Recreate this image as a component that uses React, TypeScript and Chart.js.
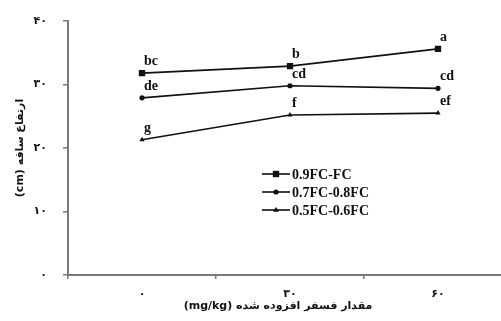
import React, { useEffect, useRef } from "react";
import { Chart, registerables } from "chart.js";

Chart.register(...registerables);

const categories = ["۰", "۳۰", "۶۰"];
const seriesNames = ["0.9FC-FC", "0.7FC-0.8FC", "0.5FC-0.6FC"];
const series1 = [31.8, 32.9, 35.6];
const series2 = [27.9, 29.8, 29.4];
const series3 = [21.3, 25.2, 25.5];
const letters1 = ["bc", "b", "a"];
const letters2 = ["de", "cd", "cd"];
const letters3 = ["g", "f", "ef"];
const yTickValues = [0, 10, 20, 30, 40];
const yTickLabels = ["۰", "۱۰", "۲۰", "۳۰", "۴۰"];
const yTitle = "(cm) ارتفاع ساقه";
const xTitle = "(mg/kg) مقدار فسفر افزوده شده";

const pointStyles = ["rect", "circle", "triangle"];
const pointRadii = [4.5, 2.6, 3];
const letterSets = [letters1, letters2, letters3];

const SERIF = "'Liberation Serif', 'Times New Roman', serif";
const PERSIAN = "'DejaVu Sans', sans-serif";

function drawMarker(ctx: CanvasRenderingContext2D, style: string, x: number, y: number, r: number) {
  ctx.beginPath();
  if (style === "rect") {
    const s = r * Math.SQRT1_2;
    ctx.rect(x - s, y - s, 2 * s, 2 * s);
  } else if (style === "circle") {
    ctx.arc(x, y, r, 0, Math.PI * 2);
  } else {
    ctx.moveTo(x, y - r);
    ctx.lineTo(x + r, y + r * 0.6);
    ctx.lineTo(x - r, y + r * 0.6);
    ctx.closePath();
  }
  ctx.fill();
}

const labelsPlugin = {
  id: "letterLabels",
  afterDatasetsDraw(chart: any) {
    const ctx = chart.ctx as CanvasRenderingContext2D;
    ctx.save();
    ctx.fillStyle = "#111";
    ctx.font = `bold 14px ${SERIF}`;
    ctx.textAlign = "left";
    ctx.textBaseline = "alphabetic";
    chart.data.datasets.forEach((ds: any, i: number) => {
      const meta = chart.getDatasetMeta(i);
      meta.data.forEach((pt: any, j: number) => {
        ctx.fillText(letterSets[i][j], pt.x + 2, pt.y - 8);
      });
    });
    ctx.restore();
  },
};

const xTitlePlugin = {
  id: "xTitle",
  afterDraw(chart: any) {
    const ctx = chart.ctx as CanvasRenderingContext2D;
    const area = chart.chartArea;
    ctx.save();
    ctx.fillStyle = "#111";
    ctx.font = `bold 11px ${PERSIAN}`;
    ctx.textAlign = "center";
    ctx.textBaseline = "middle";
    ctx.fillText(xTitle, (area.left + area.right) / 2 - 12, chart.height - 7);
    ctx.restore();
  },
};

const legendPlugin = {
  id: "customLegend",
  afterDraw(chart: any) {
    const ctx = chart.ctx as CanvasRenderingContext2D;
    ctx.save();
    const x0 = 254;
    const x1 = 282;
    const rows = [166, 184, 202];
    seriesNames.forEach((name, i) => {
      const y = rows[i];
      ctx.strokeStyle = "#111";
      ctx.lineWidth = 1.6;
      ctx.beginPath();
      ctx.moveTo(x0, y);
      ctx.lineTo(x1, y);
      ctx.stroke();
      ctx.fillStyle = "#111";
      drawMarker(ctx, pointStyles[i], (x0 + x1) / 2, y, pointRadii[i]);
      ctx.font = `bold 14px ${SERIF}`;
      ctx.textAlign = "left";
      ctx.textBaseline = "middle";
      ctx.fillText(name, x1 + 2, y + 1);
    });
    ctx.restore();
  },
};

export default function App() {
  const ref = useRef<HTMLCanvasElement | null>(null);

  useEffect(() => {
    document.documentElement.style.overflow = "hidden";
    const canvas = ref.current;
    if (!canvas) return;
    const seriesData = [series1, series2, series3];
    const chart = new Chart(canvas, {
      type: "line",
      data: {
        labels: categories,
        datasets: seriesData.map((d, i) => ({
          label: seriesNames[i],
          data: d,
          borderColor: "#111",
          backgroundColor: "#111",
          borderWidth: 1.7,
          pointStyle: pointStyles[i] as any,
          pointRadius: pointRadii[i],
          pointBackgroundColor: "#111",
          pointBorderColor: "#111",
          pointBorderWidth: 0,
          tension: 0,
        })),
      },
      options: {
        animation: false,
        responsive: true,
        maintainAspectRatio: false,
        layout: { autoPadding: false, padding: { top: 13, right: 6, left: 0, bottom: 0 } },
        plugins: {
          legend: { display: false },
          tooltip: { enabled: false },
        },
        scales: {
          x: {
            type: "category",
            offset: true,
            grid: {
              display: true,
              offset: true,
              drawOnChartArea: false,
              drawTicks: true,
              tickLength: 4,
              color: "#777",
              lineWidth: 1.5,
            },
            border: { display: true, color: "#7a7a7a", width: 2 },
            ticks: {
              color: "#111",
              font: { family: PERSIAN, size: 11, weight: "bold" },
              padding: 9,
              maxRotation: 0,
            },
            title: { display: false },
            afterFit(scale: any) {
              scale.height = 38;
              scale.paddingLeft = 0;
              scale.paddingRight = 0;
            },
          },
          y: {
            min: 0,
            max: 40,
            grid: {
              display: true,
              drawOnChartArea: false,
              drawTicks: true,
              tickLength: 5,
              color: "#777",
              lineWidth: 1.5,
            },
            border: { display: true, color: "#7a7a7a", width: 2 },
            afterBuildTicks(scale: any) {
              scale.ticks = yTickValues.map((v) => ({ value: v }));
            },
            ticks: {
              color: "#111",
              font: { family: PERSIAN, size: 11, weight: "bold" },
              padding: 16,
              callback: (v: any) => {
                const idx = yTickValues.indexOf(Number(v));
                return idx >= 0 ? yTickLabels[idx] : "";
              },
            },
            title: {
              display: true,
              text: yTitle,
              color: "#111",
              font: { family: PERSIAN, size: 11, weight: "bold" },
              padding: { top: 6, bottom: 0 },
            },
            afterFit(scale: any) {
              scale.width = 60;
              scale.paddingTop = 0;
              scale.paddingBottom = 0;
            },
          },
        },
      },
      plugins: [labelsPlugin, legendPlugin, xTitlePlugin],
    });
    return () => chart.destroy();
  }, []);

  return (
    <div style={{ position: "fixed", left: 8, top: 8, width: 510, height: 305 }}>
      <canvas ref={ref} />
    </div>
  );
}
